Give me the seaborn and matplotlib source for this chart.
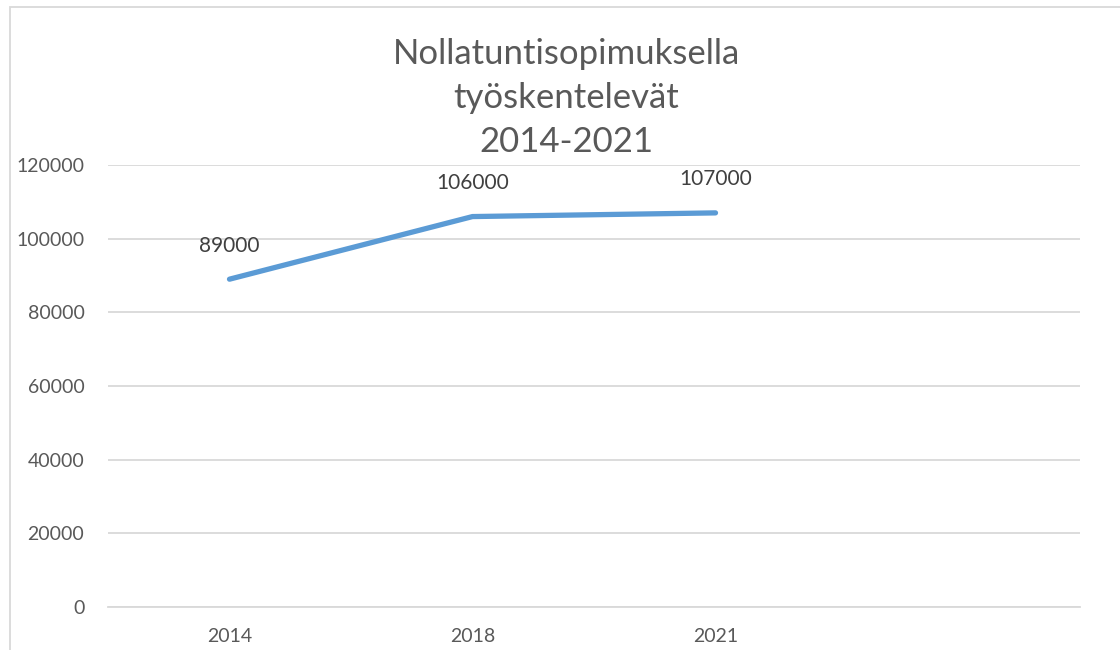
import matplotlib
matplotlib.use("Agg")
import matplotlib.pyplot as plt
from matplotlib.patches import Rectangle
import seaborn as sns
import pandas as pd
import numpy as np

# Zero-hour contract workers by survey year
years = ["2014", "2018", "2021"]
workers = [89000, 106000, 107000]
category_labels = ["2014", "2018", "2021", ""]
y_ticks = [0, 20000, 40000, 60000, 80000, 100000, 120000]
title_lines = ["Nollatuntisopimuksella", "työskentelevät", "2014-2021"]

sns.set_theme(style="white")
plt.rcParams["font.family"] = ["Lato", "DejaVu Sans"]

W, H = 1120, 650
fig = plt.figure(figsize=(W / 100, H / 100), dpi=100)
ax = fig.add_axes([108 / W, 1 - 607 / H, (1080 - 108) / W, (607 - 165) / H])

df = pd.DataFrame({"pos": np.arange(len(years)), "value": workers})
sns.lineplot(data=df, x="pos", y="value", ax=ax, color="#5B9BD5",
             linewidth=3.8, solid_capstyle="round", solid_joinstyle="round")

for x, v in zip(df["pos"], df["value"]):
    ax.annotate(f"{v}", (x, v), xytext=(0, 17), textcoords="offset points",
                ha="center", va="bottom", fontsize=15, color="#404040")

ax.set_xlim(-0.5, len(category_labels) - 0.5)
ax.set_ylim(y_ticks[0], y_ticks[-1])
ax.set_xticks(np.arange(len(category_labels)))
ax.set_xticklabels(category_labels)
ax.set_yticks(y_ticks)
ax.set_yticklabels([str(t) for t in y_ticks])
ax.set_xlabel("")
ax.set_ylabel("")
ax.tick_params(axis="both", length=0, labelsize=14, labelcolor="#595959")
ax.tick_params(axis="y", pad=17)
ax.tick_params(axis="x", pad=15)
ax.grid(axis="y", color="#d9d9d9", linewidth=1.3)
ax.grid(axis="x", visible=False)
for side in ["left", "right", "top"]:
    ax.spines[side].set_visible(False)
ax.spines["bottom"].set_color("#d9d9d9")
ax.spines["bottom"].set_linewidth(1.3)

fig.text(566 / W, 1 - 38 / H, "\n".join(title_lines), ha="center", va="top",
         fontsize=25, color="#595959", linespacing=1.47)

# chart outline
fig.patches.append(Rectangle((10 / W, -0.1), 1.2, 1.1 - 7 / H,
                             transform=fig.transFigure, fill=False,
                             edgecolor="#d9d9d9", linewidth=1.3))

fig.savefig("out.png", dpi=100)
